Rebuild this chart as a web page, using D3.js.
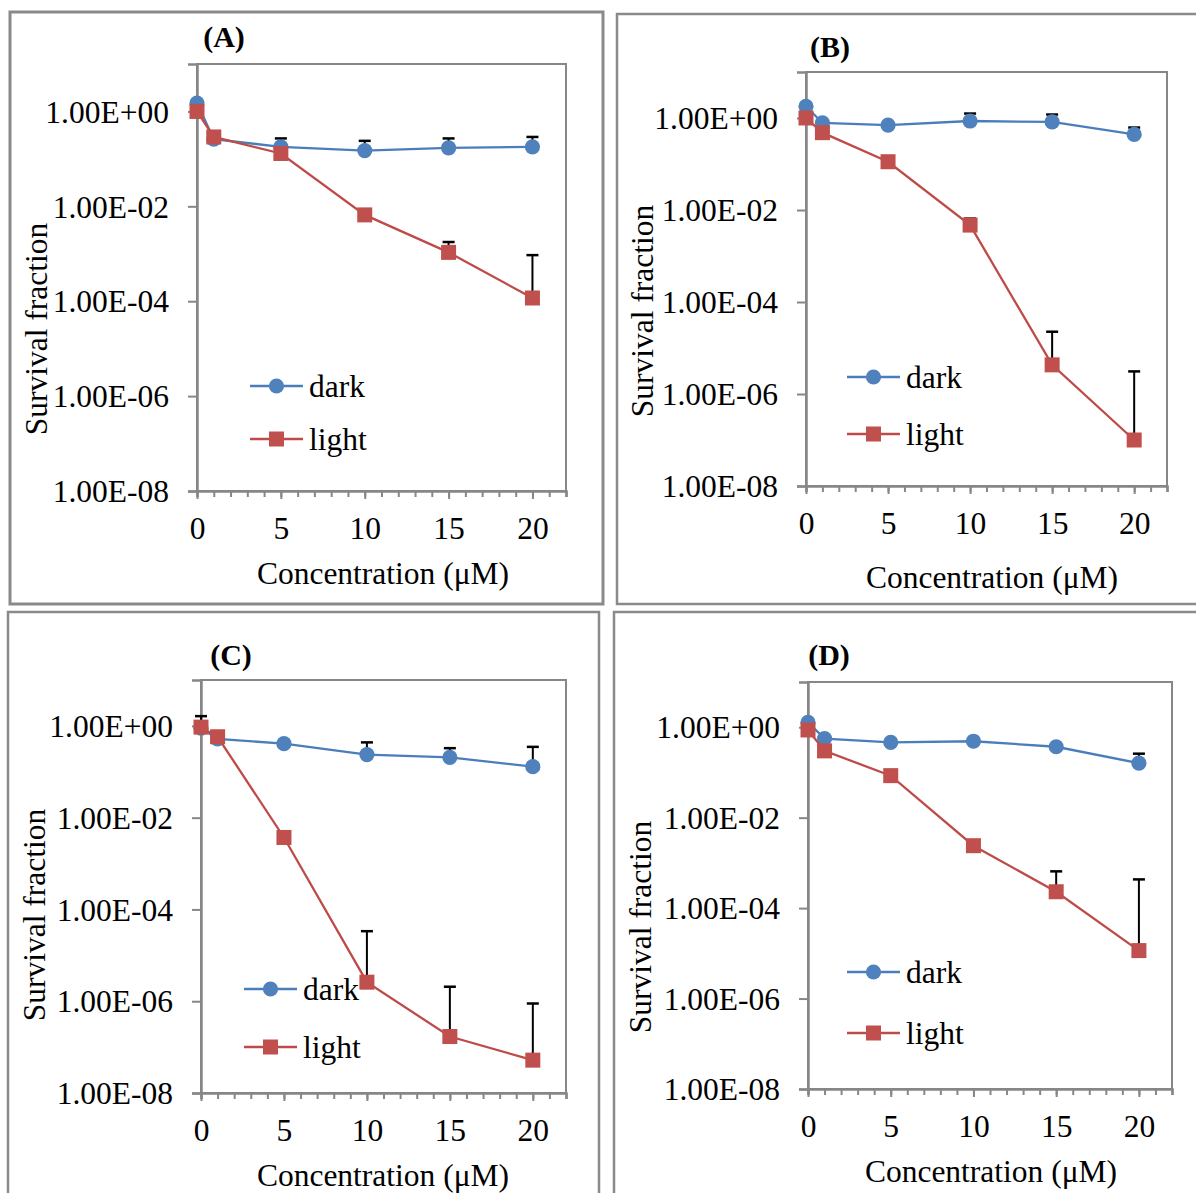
<!DOCTYPE html>
<html>
<head>
<meta charset="utf-8">
<script src="https://cdn.jsdelivr.net/npm/d3@7"></script>
<style>
  body { margin: 0; background: #fff; }
  text { font-family: "Liberation Serif", "Times New Roman", serif; fill: #000; }
</style>
</head>
<body>
<div id="chart"></div>
<script>
// concentrations (uM)
var conc = [0, 1, 5, 10, 15, 20];
var xTicks = [0, 5, 10, 15, 20];
var yTicks = [1, 1e-2, 1e-4, 1e-6, 1e-8];
var yTickLabels = ["1.00E+00", "1.00E-02", "1.00E-04", "1.00E-06", "1.00E-08"];
var seriesNames = ["dark", "light"];
var panelNames = ["(A)", "(B)", "(C)", "(D)"];

// survival fraction, panel A..D
var darkA = [1.5, 0.26, 0.18, 0.15, 0.17, 0.18];
var darkErrA = [0, 0, 0.09, 0.09, 0.10, 0.11];
var lightA = [1.0, 0.29, 0.13, 0.0066, 0.00107, 1.17e-4];
var lightErrA = [0, 0, 0, 0, 0.0007, 8.2e-4];

var darkB = [1.8, 0.78, 0.70, 0.86, 0.82, 0.44];
var darkErrB = [0, 0.05, 0, 0.39, 0.37, 0.18];
var lightB = [1.0, 0.48, 0.112, 0.0047, 4.3e-6, 1.0e-7];
var lightErrB = [0, 0, 0, 0.0018, 1.83e-5, 3.0e-6];

var darkC = [0.89, 0.52, 0.41, 0.237, 0.207, 0.129];
var darkErrC = [0.74, 0, 0, 0.2, 0.12, 0.22];
var lightC = [0.94, 0.58, 0.0037, 2.6e-6, 1.7e-7, 5.2e-8];
var lightErrC = [0, 0, 0, 3.1e-5, 1.9e-6, 8.4e-7];

var darkD = [1.28, 0.56, 0.46, 0.49, 0.37, 0.16];
var darkErrD = [0, 0, 0, 0, 0, 0.10];
var lightD = [0.87, 0.30, 0.085, 0.0024, 2.3e-4, 1.15e-5];
var lightErrD = [0, 0, 0, 0, 4.2e-4, 4.2e-4];

var darkAll = [darkA, darkB, darkC, darkD];
var darkErrAll = [darkErrA, darkErrB, darkErrC, darkErrD];
var lightAll = [lightA, lightB, lightC, lightD];
var lightErrAll = [lightErrA, lightErrB, lightErrC, lightErrD];

// page layout of each panel (pixels)
var layout = [
  {frame: [10, 12, 603, 604], plot: [197, 64, 566, 491], title: [224, 47], yTitle: [36, 329], xTitle: [383, 584], legend: [250, 386, 439], fw: 3},
  {frame: [617, 14, 1210, 604], plot: [806, 72, 1167, 486], title: [830, 57], yTitle: [642, 311], xTitle: [992, 588], legend: [847, 377, 434], fw: 2.5},
  {frame: [8, 612, 599, 1210], plot: [201, 680, 566, 1093], title: [231, 665], yTitle: [34, 915], xTitle: [383, 1186], legend: [244, 989, 1047], fw: 2.5},
  {frame: [614, 612, 1210, 1210], plot: [808, 682, 1172, 1089], title: [829, 665], yTitle: [640, 927], xTitle: [991, 1182], legend: [847, 972, 1033], fw: 2.5}
];

var blue = "#4F81BD", blueLine = "#4A7EBB", red = "#C0504D", redLine = "#BE4B48", gray = "#878787";
var fs = 31.5;
var rDot = 7.6, sq = 15;

var svg = d3.select("#chart").append("svg")
  .attr("width", 1196)
  .attr("height", 1193);

svg.append("rect").attr("width", 1196).attr("height", 1193).attr("fill", "#fff");

layout.forEach(function(L, p) {
  var g = svg.append("g");
  var f = L.frame, r = L.plot;

  // outer frame of panel
  g.append("rect")
    .attr("x", f[0]).attr("y", f[1])
    .attr("width", f[2] - f[0]).attr("height", f[3] - f[1])
    .attr("fill", "none").attr("stroke", "#8a8a8a").attr("stroke-width", L.fw);

  var x = d3.scaleLinear().domain([0, 22]).range([r[0], r[2]]);
  var y = d3.scaleLog().domain([1e-8, 10]).range([r[3], r[1]]);

  // plot area border
  g.append("rect")
    .attr("x", r[0]).attr("y", r[1])
    .attr("width", r[2] - r[0]).attr("height", r[3] - r[1])
    .attr("fill", "none").attr("stroke", gray).attr("stroke-width", 2);

  // y axis
  var yAxis = d3.axisLeft(y).tickValues(yTicks)
    .tickFormat(function(d, i) { return yTickLabels[i]; })
    .tickSize(9).tickPadding(19);
  var ya = g.append("g").attr("transform", "translate(" + r[0] + ",0)").call(yAxis);
  ya.select(".domain").attr("stroke", gray).attr("stroke-width", 2.5);
  ya.selectAll(".tick line").attr("stroke", gray).attr("stroke-width", 2);
  ya.selectAll(".tick text").attr("font-size", fs).attr("font-family", null)
    .attr("dy", "0.34em").attr("fill", "#000");

  // x axis: minor ticks every unit, labels every 5
  var xMinor = d3.axisBottom(x).tickValues(d3.range(0, 23)).tickFormat("").tickSize(6);
  var xm = g.append("g").attr("transform", "translate(0," + r[3] + ")").call(xMinor);
  xm.select(".domain").attr("stroke", gray).attr("stroke-width", 2.5);
  xm.selectAll(".tick line").attr("stroke", gray).attr("stroke-width", 2);

  var xAxis = d3.axisBottom(x).tickValues(xTicks).tickSize(8).tickPadding(18);
  var xa = g.append("g").attr("transform", "translate(0," + r[3] + ")").call(xAxis);
  xa.select(".domain").remove();
  xa.selectAll(".tick line").attr("stroke", gray).attr("stroke-width", 2);
  xa.selectAll(".tick text").attr("font-size", fs).attr("font-family", null)
    .attr("dy", "0.71em").attr("fill", "#000");

  // titles
  g.append("text").attr("x", L.title[0]).attr("y", L.title[1])
    .attr("text-anchor", "middle").attr("font-size", 30).attr("font-weight", "bold")
    .text(panelNames[p]);
  g.append("text").attr("x", L.xTitle[0]).attr("y", L.xTitle[1])
    .attr("text-anchor", "middle").attr("font-size", fs)
    .text("Concentration (\u03bcM)");
  g.append("text")
    .attr("transform", "translate(" + L.yTitle[0] + "," + L.yTitle[1] + ") rotate(-90)")
    .attr("text-anchor", "middle").attr("dy", "0.35em").attr("font-size", fs)
    .text("Survival fraction");

  var line = d3.line().x(function(d) { return x(d[0]); }).y(function(d) { return y(d[1]); });

  var sets = [
    {vals: darkAll[p], err: darkErrAll[p], color: blue, lc: blueLine, shape: "circle"},
    {vals: lightAll[p], err: lightErrAll[p], color: red, lc: redLine, shape: "square"}
  ];

  sets.forEach(function(s) {
    var pts = conc.map(function(c, i) { return [c, s.vals[i], s.err[i]]; });
    g.append("path").datum(pts).attr("d", line)
      .attr("fill", "none").attr("stroke", s.lc).attr("stroke-width", 2.3);

    // upper error bars
    var eb = g.selectAll(null).data(pts.filter(function(d) { return d[2] > 0; }))
      .enter().append("g");
    eb.append("line")
      .attr("x1", function(d) { return x(d[0]); }).attr("x2", function(d) { return x(d[0]); })
      .attr("y1", function(d) { return y(d[1]); }).attr("y2", function(d) { return y(d[1] + d[2]); })
      .attr("stroke", "#000").attr("stroke-width", 2);
    eb.append("line")
      .attr("x1", function(d) { return x(d[0]) - 6; }).attr("x2", function(d) { return x(d[0]) + 6; })
      .attr("y1", function(d) { return y(d[1] + d[2]); }).attr("y2", function(d) { return y(d[1] + d[2]); })
      .attr("stroke", "#000").attr("stroke-width", 2.5);

    if (s.shape === "circle") {
      g.selectAll(null).data(pts).enter().append("circle")
        .attr("cx", function(d) { return x(d[0]); }).attr("cy", function(d) { return y(d[1]); })
        .attr("r", rDot).attr("fill", s.color);
    } else {
      g.selectAll(null).data(pts).enter().append("rect")
        .attr("x", function(d) { return x(d[0]) - sq / 2; }).attr("y", function(d) { return y(d[1]) - sq / 2; })
        .attr("width", sq).attr("height", sq).attr("fill", s.color);
    }
  });

  // legend
  var lg = L.legend;
  sets.forEach(function(s, i) {
    var ly = lg[1 + i];
    g.append("line").attr("x1", lg[0]).attr("x2", lg[0] + 53).attr("y1", ly).attr("y2", ly)
      .attr("stroke", s.lc).attr("stroke-width", 2.3);
    if (s.shape === "circle") {
      g.append("circle").attr("cx", lg[0] + 26.5).attr("cy", ly).attr("r", rDot).attr("fill", s.color);
    } else {
      g.append("rect").attr("x", lg[0] + 26.5 - sq / 2).attr("y", ly - sq / 2).attr("width", sq).attr("height", sq).attr("fill", s.color);
    }
    g.append("text").attr("x", lg[0] + 59).attr("y", ly + 10.5).attr("font-size", fs).text(seriesNames[i]);
  });
});
</script>
</body>
</html>
